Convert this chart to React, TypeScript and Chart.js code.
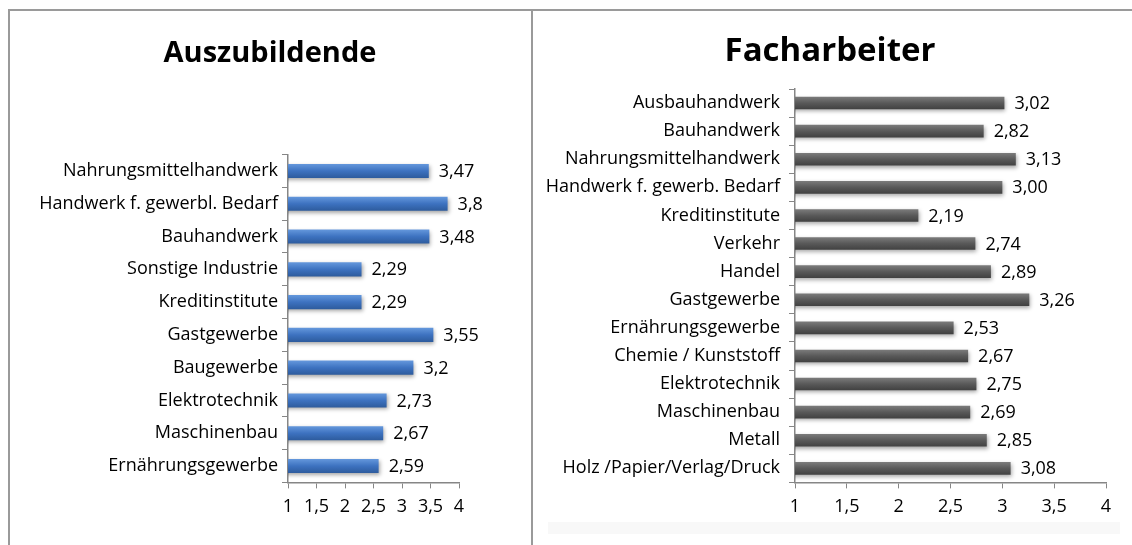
import React, { useEffect, useRef } from "react";
import { Chart, registerables } from "chart.js";

Chart.register(...registerables);

const leftTitle = "Auszubildende";
const leftCategories = [
  "Nahrungsmittelhandwerk",
  "Handwerk f. gewerbl. Bedarf",
  "Bauhandwerk",
  "Sonstige Industrie",
  "Kreditinstitute",
  "Gastgewerbe",
  "Baugewerbe",
  "Elektrotechnik",
  "Maschinenbau",
  "Ernährungsgewerbe",
];
const leftValues = [3.47, 3.8, 3.48, 2.29, 2.29, 3.55, 3.2, 2.73, 2.67, 2.59];

const rightTitle = "Facharbeiter";
const rightCategories = [
  "Ausbauhandwerk",
  "Bauhandwerk",
  "Nahrungsmittelhandwerk",
  "Handwerk f. gewerb. Bedarf",
  "Kreditinstitute",
  "Verkehr",
  "Handel",
  "Gastgewerbe",
  "Ernährungsgewerbe",
  "Chemie / Kunststoff",
  "Elektrotechnik",
  "Maschinenbau",
  "Metall",
  "Holz /Papier/Verlag/Druck",
];
const rightValues = [3.02, 2.82, 3.13, 3.0, 2.19, 2.74, 2.89, 3.26, 2.53, 2.67, 2.75, 2.69, 2.85, 3.08];

const axisMin = 1;
const axisMax = 4;
const axisStep = 0.5;

const FONT = "'Open Sans', sans-serif";
const FS = 18;

type PanelProps = {
  title: string;
  titleSize: number;
  titleX: number;
  titleY: number;
  categories: string[];
  values: number[];
  fmt: (v: number) => string;
  colors: [string, string, string];
  width: number;
  height: number;
  yAxisWidth: number;
  padRight: number;
  padTop: number;
  xAxisHeight: number;
  labelPad: number;
  barPct: number;
};

function Panel(p: PanelProps) {
  const ref = useRef<HTMLCanvasElement>(null);
  useEffect(() => {
    const canvas = ref.current!;
    const valueLabels = {
      id: "valueLabels",
      beforeDatasetsDraw(chart: any) {
        const ctx = chart.ctx;
        ctx.save();
        ctx.shadowColor = "rgba(0,0,0,0.35)";
        ctx.shadowBlur = 4;
        ctx.shadowOffsetX = 1;
        ctx.shadowOffsetY = 2;
      },
      afterDatasetsDraw(chart: any) {
        const ctx = chart.ctx;
        ctx.restore();
        const meta = chart.getDatasetMeta(0);
        ctx.save();
        ctx.fillStyle = "#000";
        ctx.font = `${FS}px ${FONT}`;
        ctx.textAlign = "left";
        ctx.textBaseline = "middle";
        meta.data.forEach((bar: any, i: number) => {
          ctx.fillText(p.fmt(p.values[i]), bar.x + 10, bar.y + 1);
        });
        ctx.restore();
      },
      afterDraw(chart: any) {
        const ctx = chart.ctx;
        ctx.save();
        ctx.fillStyle = "#000";
        ctx.font = `bold ${p.titleSize}px ${FONT}`;
        ctx.textAlign = "center";
        ctx.textBaseline = "middle";
        ctx.fillText(p.title, p.titleX, p.titleY);
        ctx.restore();
      },
    };
    const chart = new Chart(canvas, {
      type: "bar",
      data: {
        labels: p.categories,
        datasets: [
          {
            data: p.values,
            backgroundColor: (c: any) => {
              const ch = c.chart;
              const ys = ch.scales && ch.scales.y;
              if (!ys || c.dataIndex === undefined) return p.colors[1];
              const yc = ys.getPixelForTick(c.dataIndex);
              const h = 8;
              const g = ch.ctx.createLinearGradient(0, yc - h, 0, yc + h);
              g.addColorStop(0, p.colors[0]);
              g.addColorStop(0.5, p.colors[1]);
              g.addColorStop(1, p.colors[2]);
              return g;
            },
            borderWidth: 0,
            categoryPercentage: 1,
            barPercentage: p.barPct,
          },
        ],
      },
      options: {
        indexAxis: "y",
        responsive: false,
        animation: false,
        layout: { padding: { left: 0, right: p.padRight, top: p.padTop, bottom: 0 } },
        plugins: {
          legend: { display: false },
          tooltip: { enabled: false },
          title: { display: false },
        },
        scales: {
          x: {
            min: axisMin,
            max: axisMax,
            grid: {
              display: true,
              drawOnChartArea: false,
              drawTicks: true,
              tickLength: 6,
              color: "#868686",
            },
            border: { display: true, color: "#868686", width: 1.5 },
            ticks: {
              stepSize: axisStep,
              color: "#000",
              font: { family: FONT, size: FS },
              padding: 8,
              maxRotation: 0,
              autoSkip: false,
              callback: (v: any) => String(v).replace(".", ","),
            },
            afterFit: (s: any) => {
              s.height = p.xAxisHeight;
            },
          },
          y: {
            grid: {
              display: true,
              drawOnChartArea: false,
              drawTicks: true,
              tickLength: 6,
              offset: true,
              color: "#868686",
            },
            border: { display: true, color: "#868686", width: 1.5 },
            ticks: {
              color: "#000",
              font: { family: FONT, size: FS },
              padding: p.labelPad,
              autoSkip: false,
            },
            afterFit: (s: any) => {
              s.width = p.yAxisWidth;
            },
          },
        },
      },
      plugins: [valueLabels],
    } as any);
    return () => chart.destroy();
  }, []);
  return <canvas ref={ref} width={p.width} height={p.height} style={{ display: "block" }} />;
}

export default function App() {
  const border = "#9a9a9a";
  return (
    <div
      style={{
        position: "absolute",
        left: 0,
        top: 0,
        width: 1132,
        height: 545,
        overflow: "hidden",
        background: "#fff",
      }}
    >
      <div style={{ position: "absolute", left: 548, top: 522, width: 572, height: 12, background: "#f8f8f8" }} />
      <div style={{ position: "absolute", left: 8, top: 0, width: 524, height: 545 }}>
        <Panel
          title={leftTitle}
          titleSize={29}
          titleX={262}
          titleY={53.5}
          categories={leftCategories}
          values={leftValues}
          fmt={(v) => String(v).replace(".", ",")}
          colors={["#6a9de0", "#3d72c0", "#2b5898"]}
          width={524}
          height={545}
          yAxisWidth={280}
          padRight={73}
          padTop={154.6}
          xAxisHeight={62.6}
          labelPad={4}
          barPct={0.43}
        />
      </div>
      <div style={{ position: "absolute", left: 532, top: 0, width: 600, height: 545 }}>
        <Panel
          title={rightTitle}
          titleSize={33}
          titleX={298}
          titleY={52}
          categories={rightCategories}
          values={rightValues}
          fmt={(v) => v.toFixed(2).replace(".", ",")}
          colors={["#858585", "#595959", "#3a3a3a"]}
          width={600}
          height={545}
          yAxisWidth={263}
          padRight={26}
          padTop={89}
          xAxisHeight={62.6}
          labelPad={9}
          barPct={0.45}
        />
      </div>
      <div style={{ position: "absolute", left: 8, top: 9, width: 1124, height: 2, background: border }} />
      <div style={{ position: "absolute", left: 8, top: 9, width: 2, height: 536, background: border }} />
      <div style={{ position: "absolute", left: 531, top: 9, width: 2, height: 536, background: border }} />
    </div>
  );
}
